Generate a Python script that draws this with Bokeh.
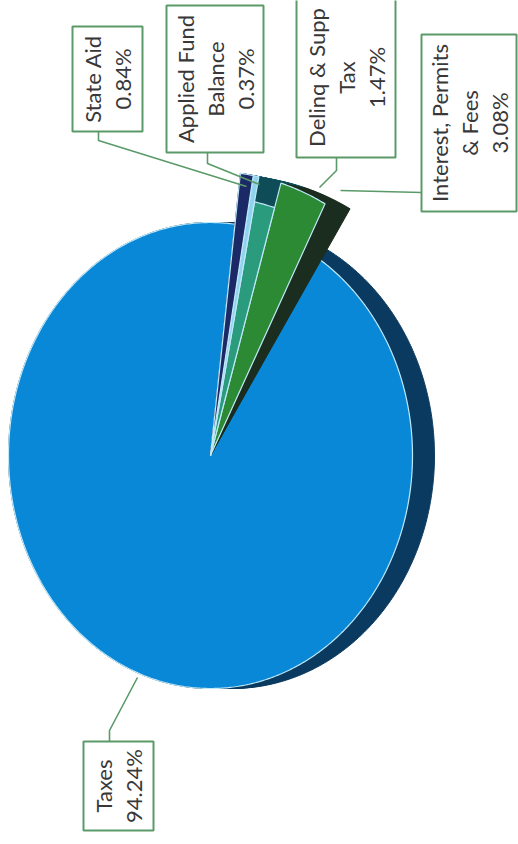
import numpy as np
from bokeh.plotting import figure
from bokeh.models import Range1d
from bokeh.embed import file_html
from bokeh.resources import INLINE
from bokeh.core.properties import value

# ---------------- data ----------------
categories = ["Interest, Permits & Fees", "Delinq & Supp Tax", "Applied Fund Balance", "State Aid", "Taxes"]
shares = [3.08, 1.47, 0.37, 0.84, 94.24]
label_names = [["Interest, Permits", "& Fees"], ["Delinq & Supp", "Tax"], ["Applied Fund", "Balance"], ["State Aid"], ["Taxes"]]

# ---------------- styles ----------------
top_colors = ["#2c8a35", "#2a9b7c", "#8fd3ee", "#1b2a66", "#0a88d8"]
side_colors = ["#1b2d1f", "#0f4d58", "#3f86a8", "#101a40", "#0b3a60"]
top_scale = [1.22, 1.11, 1.22, 1.22, 1.0]
edge_color = "#bfe8f8"
box_color = "#5a9a68"
text_color = "#383838"
FONT = "Lato"
FS = "22px"

W, H = 518, 844
p = figure(width=W, height=H, output_backend="svg", toolbar_location=None,
           x_range=Range1d(0, W), y_range=Range1d(0, H), min_border=0)
p.axis.visible = False
p.grid.visible = False
p.outline_line_color = None
p.background_fill_color = "white"
p.border_fill_color = "white"

# ---------------- pie geometry (layout) ----------------
cx, cy = 210, H - 455
rx, ry = 202, 233
start_deg = 62.3
explode = 1.22
taxes_depth = 22
small_side = (25, -5)

fr = np.array(shares) / sum(shares)
edges = np.radians(start_deg + 360 * np.concatenate([[0], np.cumsum(fr)]))


def wedge(a0, a1, scale, dx=0.0, dy=0.0, shift_apex=True):
    n = max(8, int(abs(a1 - a0) / np.radians(0.5)))
    t = np.linspace(a0, a1, n)
    xs = cx + scale * rx * np.cos(t) + dx
    ys = cy + scale * ry * np.sin(t) + dy
    ax_ = cx + (dx if shift_apex else 0)
    ay_ = cy + (dy if shift_apex else 0)
    return [ax_] + list(xs) + [ax_], [ay_] + list(ys) + [ay_]


# Taxes: side (extrusion), then top
ti = 4
for k in np.linspace(0, taxes_depth, 12):
    xs, ys = wedge(edges[ti], edges[ti + 1], 1.0, dx=k)
    p.patch(xs, ys, fill_color=side_colors[ti], line_color=side_colors[ti], line_width=1)
xs, ys = wedge(edges[ti], edges[ti + 1], top_scale[ti])
p.patch(xs, ys, fill_color=top_colors[ti], line_color=edge_color, line_width=1.2)

# small slices: sides (left-most first) then tops
for i in [3, 2, 1, 0]:
    for k in np.linspace(0, 1, 12):
        xs, ys = wedge(edges[i], edges[i + 1], explode, dx=k * small_side[0], dy=k * small_side[1], shift_apex=False)
        p.patch(xs, ys, fill_color=side_colors[i], line_color=side_colors[i], line_width=1)
for i in range(4):
    xs, ys = wedge(edges[i], edges[i + 1], top_scale[i])
    p.patch(xs, ys, fill_color=top_colors[i], line_color=edge_color, line_width=1.2)

# ---------------- label boxes (layout in pixel coords, y measured from top) ----------------
boxes = {  # left, right, top, bottom (pixels from top)
    0: (421, 516, 34, 211),
    1: (296, 395, -3, 157),
    2: (166, 263, 5, 152),
    3: (72, 142, 26, 131),
    4: (83, 153, 741, 830),
}
leaders = {
    0: [(421, 192), (340, 190)],
    1: [(336, 157), (336, 170), (319, 187)],
    2: [(207, 152), (207, 163), (259, 184)],
    3: [(98, 131), (98, 140), (246, 186)],
    4: [(109, 741), (109, 730), (137, 677)],
}
line_step = 30

for i in range(5):
    pts = leaders[i]
    p.line([q[0] for q in pts], [H - q[1] for q in pts], line_color=box_color, line_width=1.6)

for i in range(5):
    l, r, t, b = boxes[i]
    p.quad(left=l, right=r, top=H - t, bottom=H - b, fill_color="white",
           line_color=box_color, line_width=2)
    lines = label_names[i] + [f"{shares[i]:.2f}%"]
    n = len(lines)
    xc = (l + r) / 2
    yc = H - (t + b) / 2
    xs = [xc + (j - (n - 1) / 2) * line_step for j in range(n)]
    p.text(x=xs, y=[yc] * n, text=lines, angle=np.pi / 2, text_align="center",
           text_baseline="middle", text_font=value(FONT), text_font_size=FS,
           text_color=text_color)

open("out.html", "w").write(file_html(p, INLINE))
